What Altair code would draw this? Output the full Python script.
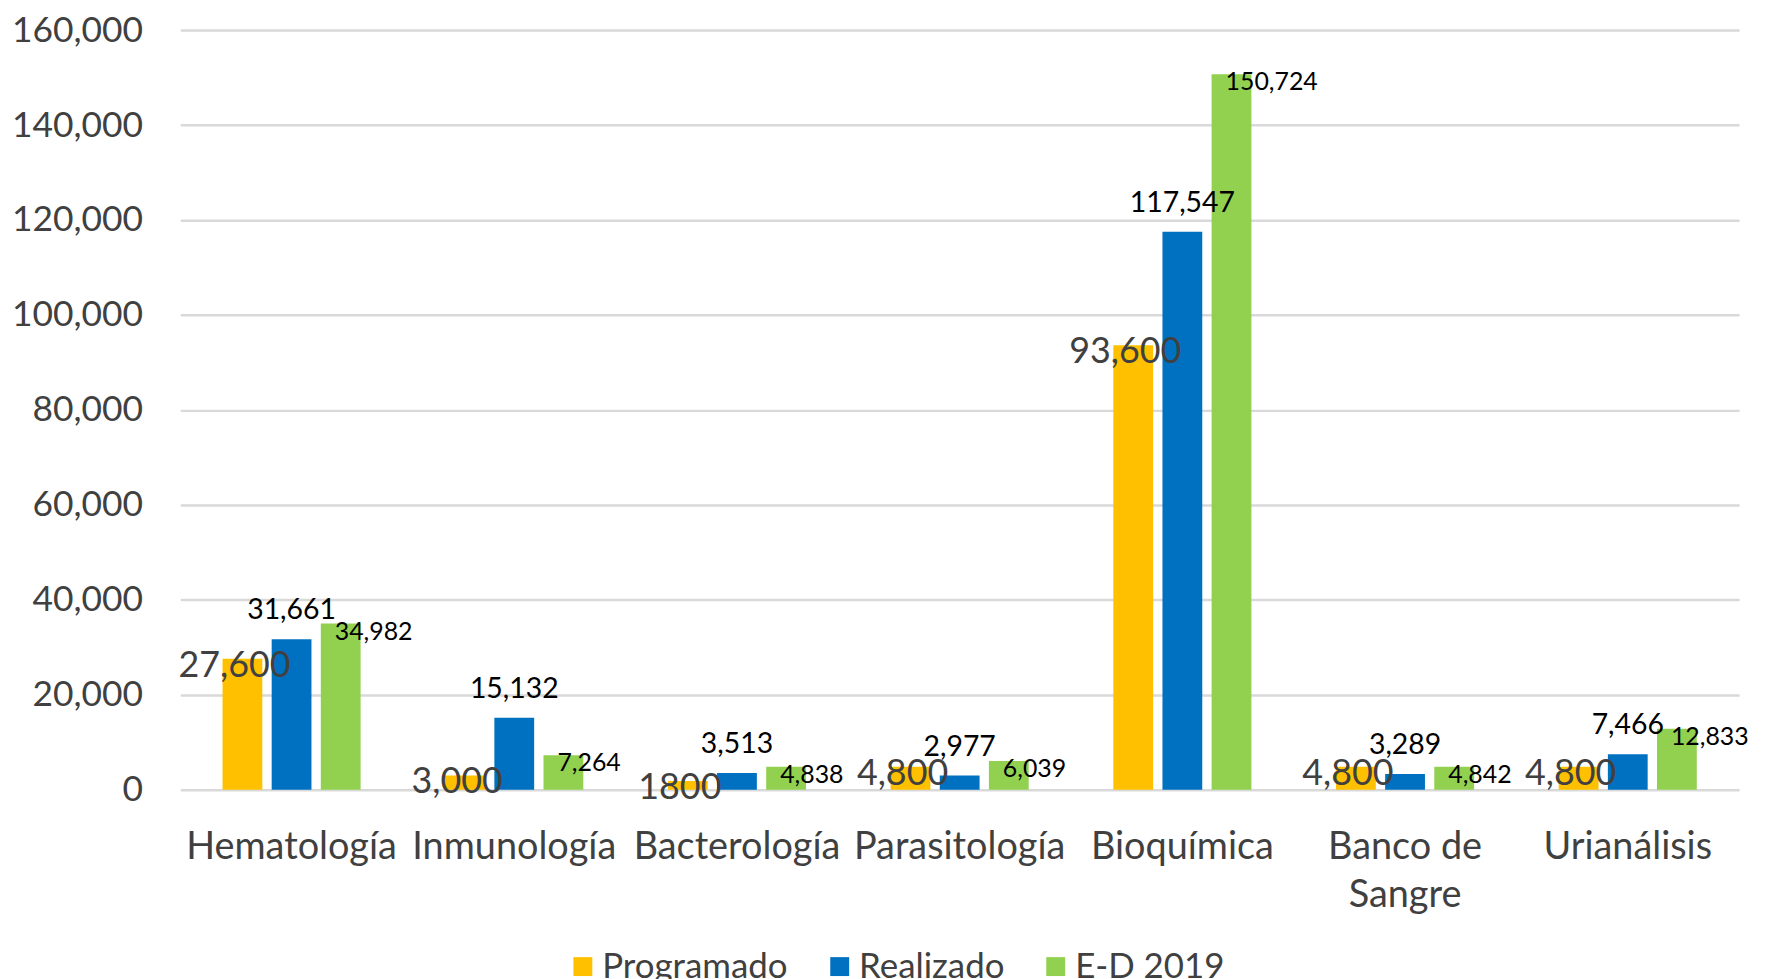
import altair as alt
import pandas as pd

categories = ["Hematología", "Inmunología", "Bacterología", "Parasitología",
              "Bioquímica", "Banco de Sangre", "Urianálisis"]
series = ["Programado", "Realizado", "E-D 2019"]
programado = [27600, 3000, 1800, 4800, 93600, 4800, 4800]
realizado = [31661, 15132, 3513, 2977, 117547, 3289, 7466]
ed2019 = [34982, 7264, 4838, 6039, 150724, 4842, 12833]
programado_labels = ["27,600", "3,000", "1800", "4,800", "93,600", "4,800", "4,800"]
colors = ["#FFC000", "#0070C0", "#92D050"]
y_ticks = [0, 20000, 40000, 60000, 80000, 100000, 120000, 140000, 160000]

rows = []
for i, c in enumerate(categories):
    rows.append({"cat": c, "series": series[0], "value": programado[i], "label": programado_labels[i]})
    rows.append({"cat": c, "series": series[1], "value": realizado[i], "label": f"{realizado[i]:,}"})
    rows.append({"cat": c, "series": series[2], "value": ed2019[i], "label": f"{ed2019[i]:,}"})
df = pd.DataFrame(rows)

FONT = "Lato"
GRAY = "#404040"

x_enc = alt.X("cat:N", sort=categories,
              scale=alt.Scale(paddingInner=0.38, paddingOuter=0.19),
              axis=alt.Axis(title=None, labelAngle=0, labelFontSize=38, labelColor=GRAY,
                            labelFont=FONT, domain=False, ticks=False, labelPadding=39,
                            labelLineHeight=48, labelLimit=0,
                            labelExpr="datum.value == 'Banco de Sangre' ? ['Banco de', 'Sangre'] : datum.value"))
xo_enc = alt.XOffset("series:N", sort=series, scale=alt.Scale(paddingInner=0.19, paddingOuter=0))
y_enc = alt.Y("value:Q", scale=alt.Scale(domain=[0, 160000], nice=False),
              axis=alt.Axis(title=None, values=y_ticks, format=",.0f", labelFontSize=35.5,
                            labelColor=GRAY, labelFont=FONT, domain=False, ticks=False,
                            labelPadding=38, gridColor="#d9d9d9", gridWidth=2.5))

base = alt.Chart(df)

bars = base.mark_bar().encode(
    x=x_enc, xOffset=xo_enc, y=y_enc,
    color=alt.Color("series:N", sort=series,
                    scale=alt.Scale(domain=series, range=colors),
                    legend=alt.Legend(title=None, orient="none", direction="horizontal",
                                      legendX=387, legendY=923, symbolType="square",
                                      symbolSize=361, symbolStrokeWidth=0,
                                      labelFontSize=35, labelFont=FONT, labelColor=GRAY,
                                      labelOffset=2, columnPadding=34, labelLimit=0))
)

t_prog = base.transform_filter(alt.datum.series == "Programado").mark_text(
    font=FONT, fontSize=36, color=GRAY, baseline="middle", align="center", dx=-8, dy=7
).encode(x=x_enc, xOffset=xo_enc, y=y_enc, text="label:N")

t_real = base.transform_filter(alt.datum.series == "Realizado").mark_text(
    font=FONT, fontSize=28.5, color="#000000", baseline="middle", align="center", dy=-29
).encode(x=x_enc, xOffset=xo_enc, y=y_enc, text="label:N")

t_ed = base.transform_filter(alt.datum.series == "E-D 2019").mark_text(
    font=FONT, fontSize=25, color="#000000", baseline="middle", align="left", dx=-6, dy=8
).encode(x=x_enc, xOffset=xo_enc, y=y_enc, text="label:N")

chart = alt.layer(bars, t_prog, t_real, t_ed).properties(
    width=1566, height=763,
    autosize=alt.AutoSizeParams(type="none"),
    padding={"left": 173, "top": 20, "right": 24, "bottom": 188},
).configure_view(stroke=None)

chart.save("out.html", embed_options={"renderer": "svg", "actions": False})
